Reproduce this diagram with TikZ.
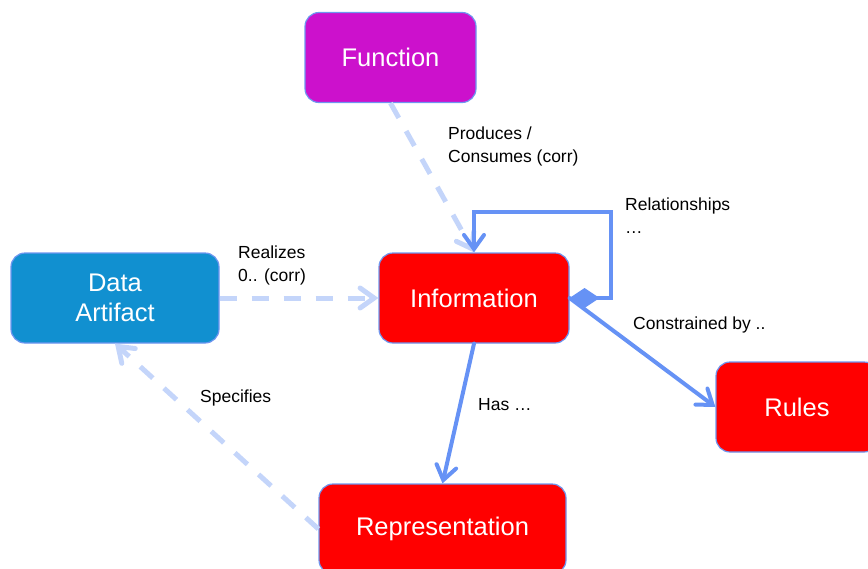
\documentclass[tikz,border=0pt]{standalone}
\usepackage{fontspec}
\setmainfont{Liberation Sans}
\usetikzlibrary{arrows.meta}
\definecolor{fnmagenta}{RGB}{204,17,204}
\definecolor{infored}{RGB}{255,0,0}
\definecolor{artblue}{RGB}{17,144,208}
\definecolor{edgeblue}{RGB}{102,146,245}
\definecolor{dashblue}{RGB}{196,213,250}
\definecolor{rimblue}{RGB}{110,150,240}

\begin{document}
\begin{tikzpicture}[x=1pt, y=-1pt,
    box/.style={draw=rimblue, line width=1.2pt, rectangle, rounded corners=14pt, minimum height=90pt, text=white, align=center, font=\fontsize{25.5}{30}\selectfont},
    lbl/.style={anchor=north west, inner sep=0pt, align=left, font=\fontsize{17.5}{22.5}\selectfont},
    strong/.style={draw=edgeblue, line width=4pt, line cap=round, -{Straight Barb[length=14pt,width=20pt,line cap=round]}},
    weak/.style={draw=dashblue, line width=5pt, dash pattern=on 17pt off 15pt, -{Straight Barb[length=14pt,width=20pt,line cap=round]}}]
    \clip (0,0) rectangle (868,568);

    \node[box, fill=fnmagenta, minimum width=171pt] (fn) at (390.5,57.5) {\raisebox{-2pt}{Function}};
    \node[box, fill=infored, minimum width=190pt] (info) at (474,298) {\raisebox{-2pt}{Information}};
    \node[box, fill=artblue, minimum width=208pt] (art) at (115,298) {Data\\Artifact};
    \node[box, fill=infored, minimum width=162pt] (rules) at (797,407) {\raisebox{-2pt}{Rules}};
    \node[box, fill=infored, minimum width=247pt] (rep) at (442.5,529) {\raisebox{-2pt}{Representation}};

    \draw[weak] (fn.south) -- (info.north);
    \draw[weak] (art) -- (info);
    \draw[weak] (rep.west) -- (art.south);

    \draw[strong] (info.south) -- (rep.north);
    \draw[strong] (info.east) -- (rules.west);
    \draw[strong, {Diamond[length=30pt,width=20pt]}-{Straight Barb[length=14pt,width=20pt,line cap=round]}] (info.east) -| ++(41,-86) -| (info.north);

    \node[lbl] (lprod) at (448,127) {Produces /\\Consumes (corr)};
    \node[lbl] (lrel) at (625,198) {Relationships\\…};
    \node[lbl] (lreal) at (238,246) {Realizes\\0.. (corr)};
    \node[lbl] (lcons) at (633,317) {Constrained by ..};
    \node[lbl] (lspec) at (200,390) {Specifies};
    \node[lbl] (lhas) at (478,398) {Has …};
\end{tikzpicture}
\end{document}
